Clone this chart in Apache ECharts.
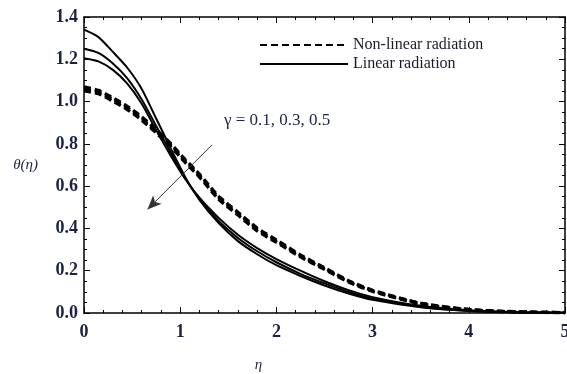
<!DOCTYPE html>
<html>
<head>
<meta charset="utf-8">
<script src="https://cdn.jsdelivr.net/npm/echarts@6/dist/echarts.min.js"></script>
<style>
    html, body { margin: 0; padding: 0; background: #fff; }
    #chart { width: 567px; height: 374px; }
</style>
</head>
<body>
<div id="chart"></div>
<script>
// η grid shared by all curves
const eta = [0, 0.15, 0.3, 0.45, 0.6, 0.75, 0.9, 1.05, 1.2, 1.4, 1.6, 1.8, 2.0, 2.25, 2.5, 2.75, 3, 3.5, 4, 4.5, 5];

// non-linear radiation (dashed), γ = 0.1, 0.3, 0.5
const nonLin1 = [1.07, 1.053, 1.018, 0.978, 0.928, 0.868, 0.802, 0.727, 0.657, 0.552, 0.477, 0.402, 0.346, 0.275, 0.214, 0.153, 0.108, 0.047, 0.017, 0.006, 0.002];
const nonLin2 = [1.06, 1.045, 1.01, 0.97, 0.92, 0.86, 0.795, 0.72, 0.65, 0.545, 0.47, 0.395, 0.34, 0.27, 0.21, 0.15, 0.105, 0.045, 0.016, 0.005, 0.002];
const nonLin3 = [1.05, 1.037, 1.002, 0.962, 0.912, 0.852, 0.788, 0.713, 0.643, 0.538, 0.463, 0.388, 0.334, 0.265, 0.206, 0.147, 0.102, 0.043, 0.015, 0.005, 0.001];

// linear radiation (solid), γ = 0.1, 0.3, 0.5
const lin1 = [1.34, 1.305, 1.235, 1.16, 1.06, 0.92, 0.78, 0.645, 0.535, 0.425, 0.34, 0.278, 0.226, 0.175, 0.13, 0.092, 0.062, 0.027, 0.01, 0.003, 0.001];
const lin2 = [1.25, 1.23, 1.18, 1.11, 1.01, 0.885, 0.76, 0.64, 0.54, 0.435, 0.355, 0.292, 0.24, 0.185, 0.14, 0.1, 0.068, 0.03, 0.011, 0.004, 0.001];
const lin3 = [1.205, 1.19, 1.15, 1.085, 0.99, 0.865, 0.745, 0.635, 0.545, 0.45, 0.37, 0.307, 0.255, 0.2, 0.15, 0.108, 0.075, 0.034, 0.013, 0.004, 0.001];

const xTicks = [0, 1, 2, 3, 4, 5];
const yTicks = [0, 0.2, 0.4, 0.6, 0.8, 1.0, 1.2, 1.4];

// arrow annotation (data coords) and its label
const arrowFrom = [1.33, 0.795];
const arrowTo = [0.66, 0.49];
const gammaLabel = 'γ = 0.1, 0.3, 0.5';

const pairs = ys => eta.map((x, i) => [x, ys[i]]);

const chart = echarts.init(document.getElementById('chart'));

const tickLabel = {
    fontFamily: 'Liberation Serif',
    fontWeight: 'bold',
    fontSize: 18,
    color: '#1c2340'
};
const frameLine = { show: true, onZero: false, lineStyle: { color: '#000', width: 1.5 } };
const majorTick = { show: true, inside: true, length: 6, lineStyle: { color: '#000' } };

function dashed(ys, extra) {
    return Object.assign({
        type: 'line',
        name: 'Non-linear radiation',
        data: pairs(ys),
        smooth: 0.25,
        symbol: 'none',
        itemStyle: { color: '#000' },
        lineStyle: { color: '#000', width: 3.2, type: [7, 4] },
        z: 3
    }, extra || {});
}
function solid(ys) {
    return {
        type: 'line',
        name: 'Linear radiation',
        data: pairs(ys),
        smooth: 0.25,
        symbol: 'none',
        itemStyle: { color: '#000' },
        lineStyle: { color: '#000', width: 2 },
        z: 2
    };
}

const option = {
    animation: false,
    backgroundColor: '#fff',
    grid: { left: 84, right: 2, top: 17, bottom: 61, outerBoundsMode: 'none', containLabel: false },
    legend: {
        data: ['Non-linear radiation', 'Linear radiation'],
        orient: 'vertical',
        left: 254,
        top: 32,
        itemWidth: 88,
        itemHeight: 14,
        itemGap: 3,
        itemStyle: { opacity: 0 },
        textStyle: { fontFamily: 'Liberation Serif', fontSize: 16, color: '#1a1a2a' }
    },
    xAxis: [{
        type: 'value',
        min: 0, max: 5, interval: 1,
        name: 'η',
        nameLocation: 'middle',
        nameGap: 45,
        nameTextStyle: {
            fontFamily: 'Liberation Serif', fontStyle: 'italic', fontSize: 15, color: '#1c2340',
            padding: [0, 132, 0, 0]
        },
        axisLine: frameLine,
        axisTick: majorTick,
        minorTick: { show: true, splitNumber: 5, length: 3, lineStyle: { color: '#000' } },
        axisLabel: Object.assign({ margin: 10, formatter: v => xTicks.includes(v) ? String(v) : '' }, tickLabel),
        splitLine: { show: false }
    }, {
        type: 'value',
        position: 'top',
        min: 0, max: 5, interval: 1,
        axisLine: frameLine,
        axisTick: majorTick,
        minorTick: { show: true, splitNumber: 5, length: 3, lineStyle: { color: '#000' } },
        axisLabel: { show: false },
        splitLine: { show: false }
    }],
    yAxis: [{
        type: 'value',
        min: 0, max: 1.4, interval: 0.2,
        name: 'θ(η)',
        nameLocation: 'middle',
        nameRotate: 0,
        nameGap: 46,
        nameTextStyle: {
            fontFamily: 'Liberation Serif', fontStyle: 'italic', fontSize: 15, color: '#1c2340',
            padding: [16, 0, 0, 0]
        },
        axisLine: frameLine,
        axisTick: majorTick,
        minorTick: { show: true, splitNumber: 4, length: 3, lineStyle: { color: '#000' } },
        axisLabel: Object.assign({ margin: 6, formatter: v => v.toFixed(1) }, tickLabel),
        splitLine: { show: false }
    }, {
        type: 'value',
        position: 'right',
        min: 0, max: 1.4, interval: 0.2,
        axisLine: frameLine,
        axisTick: majorTick,
        minorTick: { show: true, splitNumber: 4, length: 3, lineStyle: { color: '#000' } },
        axisLabel: { show: false },
        splitLine: { show: false }
    }],
    series: [
        dashed(nonLin1, {
            markLine: {
                silent: true,
                symbol: ['none', 'arrow'],
                symbolSize: [9, 14],
                label: { show: false },
                lineStyle: { color: '#333', width: 1, type: 'solid' },
                data: [[{ coord: arrowFrom }, { coord: arrowTo }]]
            }
        }),
        dashed(nonLin2),
        dashed(nonLin3),
        solid(lin1),
        solid(lin2),
        solid(lin3)
    ],
    graphic: [{
        type: 'text',
        left: 224,
        top: 112,
        style: {
            text: gammaLabel,
            fontFamily: 'Liberation Serif',
            fontSize: 17,
            fill: '#1c2340'
        }
    }]
};

chart.setOption(option);
</script>
</body>
</html>
